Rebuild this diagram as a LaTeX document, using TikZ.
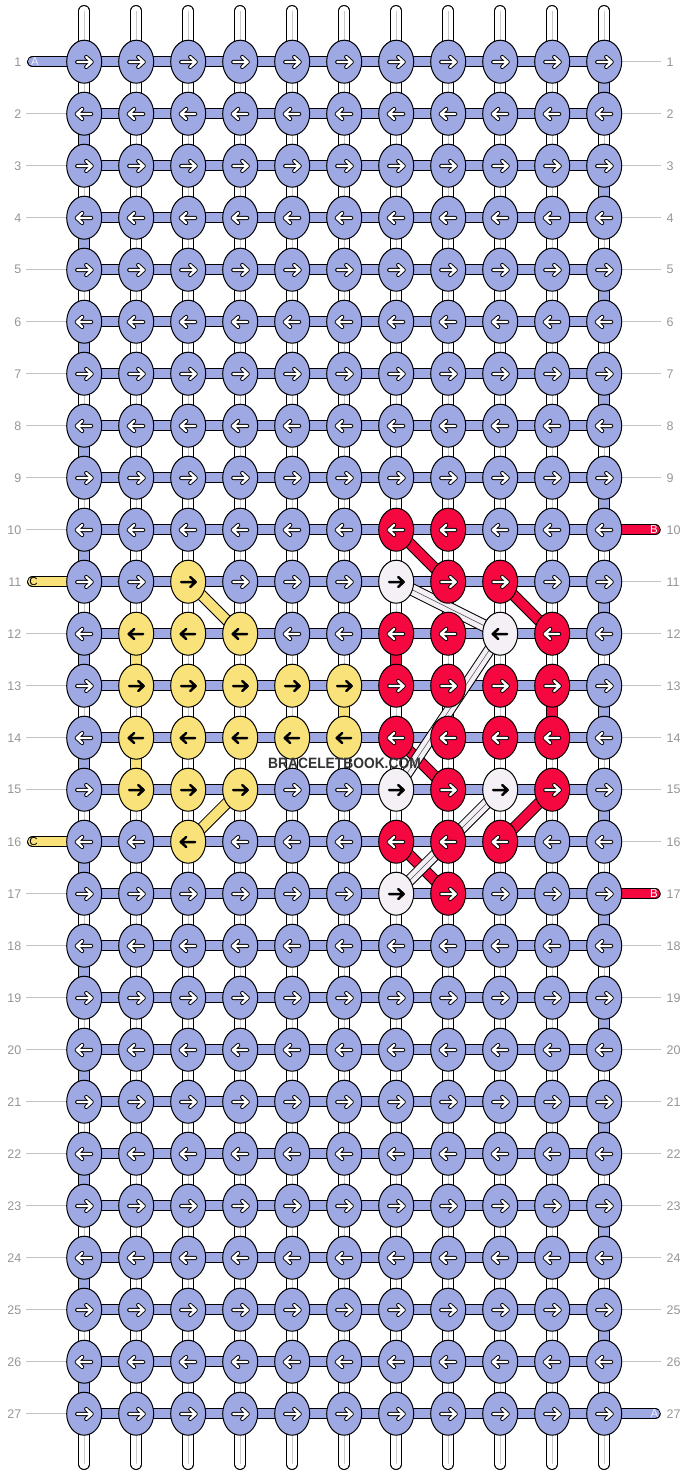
\documentclass[tikz,border=0pt]{standalone}
\usepackage{fontspec}
\setmainfont{Liberation Sans}
\usetikzlibrary{shapes.geometric}
\pgfdeclarelayer{strands}
\pgfdeclarelayer{bars}
\pgfdeclarelayer{diags}
\pgfdeclarelayer{top}
\pgfsetlayers{strands,bars,diags,main,top}
\definecolor{kB}{RGB}{158,168,226}
\definecolor{kR}{RGB}{245,8,64}
\definecolor{kY}{RGB}{250,226,122}
\definecolor{kW}{RGB}{244,240,246}
\definecolor{labgray}{RGB}{150,150,150}
\definecolor{lingray}{RGB}{195,195,195}
\definecolor{strgray}{RGB}{200,200,200}
\definecolor{wmark}{RGB}{51,51,51}
\definecolor{alab}{RGB}{236,238,255}
\newcommand\setknot[3]{\expandafter\def\csname kc-#1-#2\endcsname{#3}}
\setknot{10}{7}{R}\setknot{10}{8}{R}
\setknot{11}{3}{Y}\setknot{11}{7}{W}\setknot{11}{8}{R}\setknot{11}{9}{R}
\setknot{12}{2}{Y}\setknot{12}{3}{Y}\setknot{12}{4}{Y}\setknot{12}{7}{R}\setknot{12}{8}{R}\setknot{12}{9}{W}\setknot{12}{10}{R}
\setknot{13}{2}{Y}\setknot{13}{3}{Y}\setknot{13}{4}{Y}\setknot{13}{5}{Y}\setknot{13}{6}{Y}\setknot{13}{7}{R}\setknot{13}{8}{R}\setknot{13}{9}{R}\setknot{13}{10}{R}
\setknot{14}{2}{Y}\setknot{14}{3}{Y}\setknot{14}{4}{Y}\setknot{14}{5}{Y}\setknot{14}{6}{Y}\setknot{14}{7}{R}\setknot{14}{8}{R}\setknot{14}{9}{R}\setknot{14}{10}{R}
\setknot{15}{2}{Y}\setknot{15}{3}{Y}\setknot{15}{4}{Y}\setknot{15}{7}{W}\setknot{15}{8}{R}\setknot{15}{9}{W}\setknot{15}{10}{R}
\setknot{16}{3}{Y}\setknot{16}{7}{R}\setknot{16}{8}{R}\setknot{16}{9}{R}
\setknot{17}{7}{W}\setknot{17}{8}{R}
\tikzset{
  knot/.style={ellipse, draw=black, line width=1pt, minimum width=35pt, minimum height=43pt, inner sep=0pt},
  knot-B/.style={knot, fill=kB},
  knot-R/.style={knot, fill=kR},
  knot-Y/.style={knot, fill=kY},
  knot-W/.style={knot, fill=kW},
  band/.style={line width=1pt, double=#1, double distance=9.5pt},
  strand/.style={band=white, line cap=round},
  strandline/.style={draw=strgray, line width=1.4pt},
  arr-B/.style={line width=0.9pt, double=white, double distance=2.3pt, line cap=round, line join=round},
  arr-R/.style={arr-B},
  arr-Y/.style={line width=2.5pt, draw=black, line cap=round, line join=round},
  arr-W/.style={arr-Y},
  rowlab/.style={font=\fontsize{12.5}{12.5}\selectfont, text=labgray, inner sep=0pt},
  guide/.style={draw=lingray, line width=1pt},
  endlab/.style={font=\fontsize{11.5}{11.5}\selectfont, inner sep=0pt},
  wline/.style={draw=black!70, line width=0.5pt},
}
\begin{document}
\begin{tikzpicture}[x=1pt, y=-1pt]
\useasboundingbox (0,0) rectangle (688,1476);
% knots and arrows
\foreach \rr in {1,...,27}{
  \foreach \cc in {1,...,11}{
    \ifcsname kc-\rr-\cc\endcsname \edef\kc{\csname kc-\rr-\cc\endcsname}\else\def\kc{B}\fi
    \pgfmathsetmacro\X{84.2+52*(\cc-1)}
    \pgfmathsetmacro\Y{61.7+52*(\rr-1)}
    \pgfmathsetmacro\D{1-2*mod(\rr+1,2)}
    \node[knot-\kc] (k-\rr-\cc) at (\X,\Y) {};
    \draw[arr-\kc] ({\X-7*\D},{\Y+0.3}) -- ({\X+7.5*\D},{\Y+0.3})
      ({\X+2*\D},{\Y-4.7}) -- ({\X+7.5*\D},{\Y+0.3}) -- ({\X+2*\D},{\Y+5.3});
  }
}
% row labels
\foreach \rr in {1,...,27}{
  \pgfmathsetmacro\Y{61.7+52*(\rr-1)}
  \node[rowlab, anchor=east] (ll-\rr) at (21.5,\Y) {\rr};
  \node[rowlab, anchor=west] (rl-\rr) at (666.5,\Y) {\rr};
}
% thread end labels
\node[endlab, text=alab] (lbA1) at (35,61.7) {A};
\node[endlab, text=alab] (lbA27) at (654.5,1413.7) {A};
\node[endlab, text=white] (lbB10) at (654,529.7) {B};
\node[endlab, text=white] (lbB17) at (654,893.7) {B};
\node[endlab, text=black] (lbC11) at (33.5,581.7) {C};
\node[endlab, text=black] (lbC16) at (33.5,841.7) {C};
% watermark
\begin{pgfonlayer}{top}
\node[inner sep=0pt, text=wmark, font=\bfseries\fontsize{15}{15}\selectfont] (wm) at (344.5,763.5) {\scalebox{0.92}[1]{BRACELETBOOK.COM}};
\end{pgfonlayer}
% vertical strands
\begin{pgfonlayer}{strands}
\fill[white] (0,0) rectangle (688,1476);
\foreach \cc in {1,...,11}{
  \coordinate (st-\cc) at ({84.2+52*(\cc-1)},10.75);
  \coordinate (sb-\cc) at ({84.2+52*(\cc-1)},1464.25);
  \draw[strand] (st-\cc) -- (sb-\cc);
  \draw[strandline] (st-\cc) -- (sb-\cc);
}
\foreach \rr in {2,4,...,26}{
  \pgfmathtruncatemacro\nn{\rr+1}
  \draw[band=kB] (k-\rr-1.center) -- (k-\nn-1.center);
}
\foreach \rr in {1,3,...,25}{
  \pgfmathtruncatemacro\nn{\rr+1}
  \draw[band=kB] (k-\rr-11.center) -- (k-\nn-11.center);
}
\draw[band=kY] (k-12-2.center) -- (k-13-2.center);
\draw[band=kY] (k-14-2.center) -- (k-15-2.center);
\draw[band=kY] (k-13-6.center) -- (k-14-6.center);
\draw[band=kR] (k-12-7.center) -- (k-13-7.center);
\draw[band=kR] (k-13-10.center) -- (k-14-10.center);
% guide lines
\foreach \rr in {2,...,10,12,13,14,15,17,18,...,27}{
  \draw[guide] ([xshift=4.5pt]ll-\rr.east) -- (k-\rr-1.west);
}
\foreach \rr in {1,...,9,11,12,...,16,18,19,...,26}{
  \draw[guide] (k-\rr-11.east) -- ([xshift=-5.5pt]rl-\rr.west);
}
\end{pgfonlayer}
% horizontal bars and thread ends
\begin{pgfonlayer}{bars}
\foreach \rr in {1,...,27}{
  \foreach \cc in {1,...,10}{
    \pgfmathtruncatemacro\nn{\cc+1}
    \draw[band=kB] (k-\rr-\cc.center) -- (k-\rr-\nn.center);
  }
}
\coordinate (eA1) at (32.75,61.7);
\coordinate (eA27) at (655,1413.7);
\coordinate (eB10) at (655,529.7);
\coordinate (eB17) at (655,893.7);
\coordinate (eC11) at (32.75,581.7);
\coordinate (eC16) at (32.75,841.7);
\draw[band=kB, line cap=round] (eA1) -- (k-1-1.center);
\draw[band=kB, line cap=round] (k-27-11.center) -- (eA27);
\draw[band=kR, line cap=round] (k-10-11.center) -- (eB10);
\draw[band=kR, line cap=round] (k-17-11.center) -- (eB17);
\draw[band=kY, line cap=round] (eC11) -- (k-11-1.center);
\draw[band=kY, line cap=round] (eC16) -- (k-16-1.center);
\end{pgfonlayer}
% diagonal strands
\begin{pgfonlayer}{diags}
\draw[band=kY] (k-11-3.center) -- (k-12-4.center);
\draw[band=kY] (k-15-4.center) -- (k-16-3.center);
\draw[band=kR] (k-10-7.center) -- (k-11-8.center);
\draw[band=kR] (k-11-9.center) -- (k-12-10.center);
\draw[band=kR] (k-14-7.center) -- (k-15-8.center);
\draw[band=kR] (k-15-10.center) -- (k-16-9.center);
\draw[band=kR] (k-16-7.center) -- (k-17-8.center);
\draw[line width=1pt, double=kW, double distance=10.5pt] (k-11-7.center) -- (k-12-9.center);
\draw[wline] (k-11-7.center) -- (k-12-9.center);
\draw[line width=1pt, double=kW, double distance=9.5pt] (k-12-9.center) -- (k-15-7.center);
\draw[wline] (k-12-9.center) -- (k-15-7.center);
\draw[line width=1pt, double=kW, double distance=9.5pt] (k-15-9.center) -- (k-17-7.center);
\draw[wline] (k-15-9.center) -- (k-17-7.center);
\end{pgfonlayer}
\end{tikzpicture}
\end{document}
